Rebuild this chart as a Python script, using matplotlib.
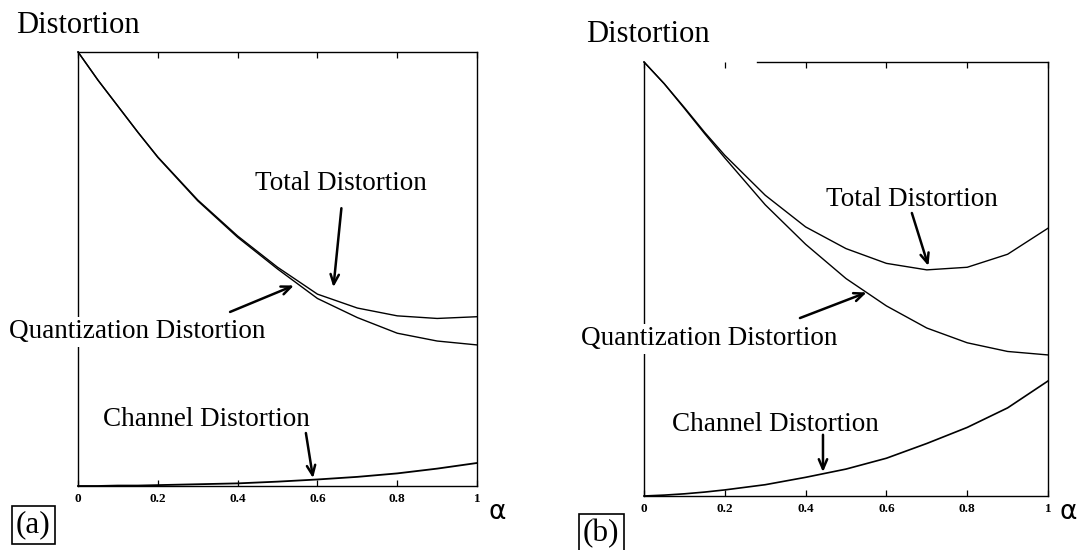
import matplotlib
matplotlib.use("Agg")
import matplotlib.pyplot as plt

# Operating points (alpha) at which each curve was sampled
alpha = [0.0, 0.05, 0.1, 0.15, 0.2, 0.3, 0.4, 0.5, 0.6, 0.7, 0.8, 0.9, 1.0]

# Panel (a): normalised distortion values
total_a = [1.0, 0.935, 0.875, 0.815, 0.758, 0.659, 0.576, 0.504, 0.442, 0.410, 0.392, 0.386, 0.390]
quant_a = [1.0, 0.935, 0.875, 0.815, 0.757, 0.657, 0.573, 0.500, 0.432, 0.388, 0.352, 0.334, 0.325]
channel_a = [0.0, 0.0, 0.001, 0.001, 0.002, 0.004, 0.006, 0.010, 0.015, 0.021, 0.029, 0.040, 0.053]

# Panel (b): normalised distortion values
total_b = [1.0, 0.950, 0.895, 0.838, 0.785, 0.693, 0.620, 0.570, 0.536, 0.521, 0.527, 0.557, 0.617]
quant_b = [1.0, 0.950, 0.893, 0.835, 0.779, 0.671, 0.580, 0.501, 0.438, 0.387, 0.353, 0.333, 0.325]
channel_b = [0.0, 0.002, 0.005, 0.009, 0.014, 0.026, 0.043, 0.062, 0.087, 0.121, 0.158, 0.203, 0.265]

tick_values = [0, 0.2, 0.4, 0.6, 0.8, 1.0]
tick_labels = ["0", "0.2", "0.4", "0.6", "0.8", "1"]

SERIF = ["Liberation Serif", "DejaVu Serif"]
LABEL_SIZE = 19.5

fig = plt.figure(figsize=(10.84, 5.5), dpi=100)
fig.patch.set_facecolor("white")

ax_a = fig.add_axes([0.0720, 0.1164, 0.3681, 0.7891])
ax_b = fig.add_axes([0.5941, 0.0982, 0.3727, 0.7891])


def style_axes(ax):
    ax.set_xlim(0, 1)
    ax.set_ylim(0, 1)
    for sp in ax.spines.values():
        sp.set_linewidth(1.0)
        sp.set_color("black")
    ax.set_yticks([])
    ax.set_xticks(tick_values)
    ax.set_xticklabels(tick_labels, family=SERIF, fontsize=9.5, fontweight="bold")
    ax.tick_params(axis="x", direction="in", length=4, width=0.9,
                   top=True, bottom=True, pad=5)


def label(ax, text, xy, **kw):
    ax.text(xy[0], xy[1], text, family=SERIF, fontsize=LABEL_SIZE,
            ha="center", va="center", clip_on=False, zorder=5,
            bbox=dict(facecolor="white", edgecolor="none", pad=1.5), **kw)


def arrow(ax, start, tip):
    ax.annotate("", xy=tip, xytext=start, zorder=6,
                arrowprops=dict(arrowstyle="->,head_length=0.7,head_width=0.3",
                                lw=1.8, color="black", shrinkA=0, shrinkB=0))


def panel_tag(ax, text, xy):
    ax.text(xy[0], xy[1], text, family=SERIF, fontsize=22.5, ha="center",
            va="center", transform=ax.transAxes, clip_on=False,
            bbox=dict(boxstyle="square,pad=0.14", facecolor="white",
                      edgecolor="black", lw=1.2))


# ---- panel (a) ----
style_axes(ax_a)
ax_a.plot(alpha, total_a, color="black", lw=1.0, clip_on=False)
ax_a.plot(alpha, quant_a, color="black", lw=1.0, clip_on=False)
ax_a.plot(alpha, channel_a, color="black", lw=1.3, clip_on=False)

label(ax_a, "Total Distortion", (0.659, 0.698))
label(ax_a, "Quantization Distortion", (0.149, 0.355))
label(ax_a, "Channel Distortion", (0.321, 0.154))
arrow(ax_a, (0.660, 0.640), (0.640, 0.458))
arrow(ax_a, (0.381, 0.401), (0.541, 0.462))
arrow(ax_a, (0.571, 0.122), (0.589, 0.018))

ax_a.text(1.05, -0.060, "α", fontsize=19, ha="center", va="center",
          family=["DejaVu Sans"], transform=ax_a.transAxes, clip_on=False)
panel_tag(ax_a, "(a)", (-0.112, -0.090))

# ---- panel (b) ----
style_axes(ax_b)
ax_b.spines["top"].set_bounds(0.28, 1.0)
ax_b.plot(alpha, total_b, color="black", lw=1.0, clip_on=False)
ax_b.plot(alpha, quant_b, color="black", lw=1.0, clip_on=False)
ax_b.plot(alpha, channel_b, color="black", lw=1.2, clip_on=False)

label(ax_b, "Total Distortion", (0.663, 0.682))
label(ax_b, "Quantization Distortion", (0.162, 0.362))
label(ax_b, "Channel Distortion", (0.324, 0.164))
arrow(ax_b, (0.663, 0.652), (0.704, 0.530))
arrow(ax_b, (0.386, 0.410), (0.551, 0.469))
arrow(ax_b, (0.443, 0.141), (0.443, 0.055))

ax_b.text(1.05, -0.037, "α", fontsize=19, ha="center", va="center",
          family=["DejaVu Sans"], transform=ax_b.transAxes, clip_on=False)
panel_tag(ax_b, "(b)", (-0.106, -0.086))

# ---- y-axis captions ----
fig.text(0.129, 0.953, "Distortion", family=SERIF, fontsize=22,
         ha="right", va="center")
fig.text(0.655, 0.937, "Distortion", family=SERIF, fontsize=22,
         ha="right", va="center")

fig.savefig("out.png", dpi=100, facecolor="white")
